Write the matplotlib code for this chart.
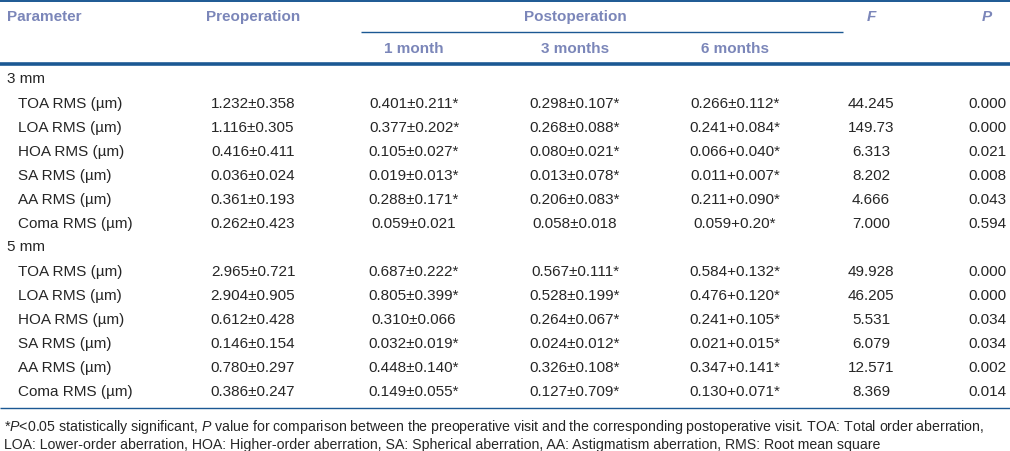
import matplotlib
matplotlib.use("Agg")
import matplotlib.pyplot as plt
from matplotlib import font_manager

# ---------------- data ----------------
groups = ["3 mm", "5 mm"]
parameters = ["TOA RMS (µm)", "LOA RMS (µm)", "HOA RMS (µm)",
              "SA RMS (µm)", "AA RMS (µm)", "Coma RMS (µm)"]
preop_3 = ["1.232±0.358", "1.116±0.305", "0.416±0.411", "0.036±0.024", "0.361±0.193", "0.262±0.423"]
m1_3 = ["0.401±0.211*", "0.377±0.202*", "0.105±0.027*", "0.019±0.013*", "0.288±0.171*", "0.059±0.021"]
m3_3 = ["0.298±0.107*", "0.268±0.088*", "0.080±0.021*", "0.013±0.078*", "0.206±0.083*", "0.058±0.018"]
m6_3 = ["0.266±0.112*", "0.241+0.084*", "0.066+0.040*", "0.011+0.007*", "0.211+0.090*", "0.059+0.20*"]
F_3 = ["44.245", "149.73", "6.313", "8.202", "4.666", "7.000"]
P_3 = ["0.000", "0.000", "0.021", "0.008", "0.043", "0.594"]

preop_5 = ["2.965±0.721", "2.904±0.905", "0.612±0.428", "0.146±0.154", "0.780±0.297", "0.386±0.247"]
m1_5 = ["0.687±0.222*", "0.805±0.399*", "0.310±0.066", "0.032±0.019*", "0.448±0.140*", "0.149±0.055*"]
m3_5 = ["0.567±0.111*", "0.528±0.199*", "0.264±0.067*", "0.024±0.012*", "0.326±0.108*", "0.127±0.709*"]
m6_5 = ["0.584+0.132*", "0.476+0.120*", "0.241+0.105*", "0.021+0.015*", "0.347+0.141*", "0.130+0.071*"]
F_5 = ["49.928", "46.205", "5.531", "6.079", "12.571", "8.369"]
P_5 = ["0.000", "0.000", "0.034", "0.034", "0.002", "0.014"]

header_top = ["Parameter", "Preoperation", "Postoperation", "F", "P"]
header_sub = ["1 month", "3 months", "6 months"]

footnote1 = r"*$\mathit{P}$<0.05 statistically significant, $\mathit{P}$ value for comparison between the preoperative visit and the corresponding postoperative visit. TOA: Total order aberration,"
footnote2 = "LOA: Lower-order aberration, HOA: Higher-order aberration, SA: Spherical aberration, AA: Astigmatism aberration, RMS: Root mean square"

# ---------------- style ----------------
names = {f.name for f in font_manager.fontManager.ttflist}
body_font = "Liberation Sans"
narrow_font = "Liberation Sans Narrow" if "Liberation Sans Narrow" in names else "Liberation Sans"
plt.rcParams["mathtext.fontset"] = "custom"
plt.rcParams["mathtext.rm"] = narrow_font
plt.rcParams["mathtext.it"] = narrow_font + ":italic"

HDR = "#7b86b9"
LINE = "#1b5893"
TXT = "#262626"

W, H = 1010, 451
fig = plt.figure(figsize=(W / 100, H / 100), dpi=100)
ax = fig.add_axes([0, 0, 1, 1])
ax.set_xlim(0, W)
ax.set_ylim(H, 0)
ax.axis("off")

fs = 11.0
fs_hdr = 11.0
# column centres
cx = [253, 414, 575, 735, 871, 987]

# rules
ax.plot([0, W], [1, 1], color=LINE, lw=1.4, solid_capstyle="butt")
ax.plot([361, 843], [32, 32], color=LINE, lw=1.0, solid_capstyle="butt")
ax.plot([0, W], [64, 64], color=LINE, lw=2.6, solid_capstyle="butt")
ax.plot([0, W], [408, 408], color=LINE, lw=1.0, solid_capstyle="butt")

# header
hk = dict(fontsize=fs_hdr, fontweight="bold", color=HDR, family=body_font, va="center")
ax.text(7, 17, header_top[0], ha="left", **hk)
ax.text(cx[0], 17, header_top[1], ha="center", **hk)
ax.text(575, 17, header_top[2], ha="center", **hk)
ax.text(cx[4], 17, header_top[3], ha="center", style="italic", **hk)
ax.text(cx[5], 17, header_top[4], ha="center", style="italic", **hk)
for i, s in enumerate(header_sub):
    ax.text(cx[1 + i], 49, s, ha="center", **hk)

# body
bk = dict(fontsize=fs, color=TXT, family=body_font, va="center")
y0 = 80
step = 24
tables = [
    (preop_3, m1_3, m3_3, m6_3, F_3, P_3),
    (preop_5, m1_5, m3_5, m6_5, F_5, P_5),
]
y = y0
for g, cols in zip(groups, tables):
    ax.text(7, y - 1, g, ha="left", **bk)
    y += step
    for r, p in enumerate(parameters):
        ax.text(18, y, p, ha="left", **bk)
        for c, col in enumerate(cols):
            ax.text(cx[c], y, col[r], ha="center", **bk)
        y += step

# footnote
fk = dict(fontsize=10.2, color=TXT, family=narrow_font, va="center", ha="left")
ax.text(4, 427, footnote1, **fk)
ax.text(4, 445, footnote2, **fk)

fig.savefig("out.png", dpi=100)
